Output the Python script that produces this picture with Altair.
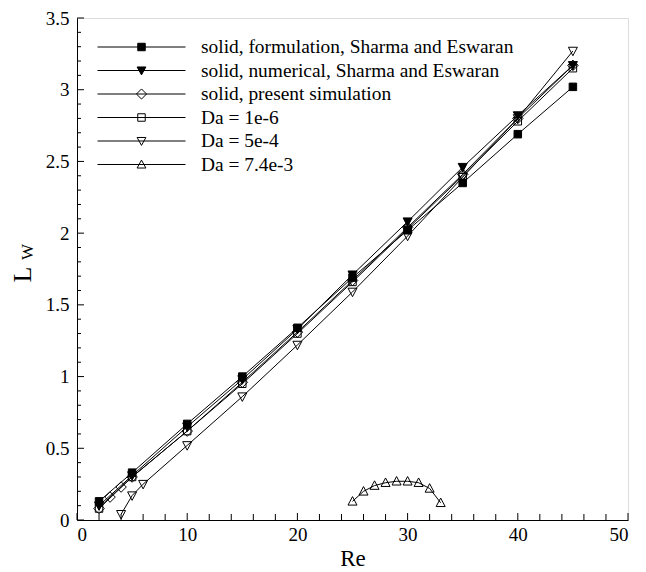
import altair as alt
import pandas as pd

series_names = [
    "solid, formulation, Sharma and Eswaran",
    "solid, numerical, Sharma and Eswaran",
    "solid, present simulation",
    "Da = 1e-6",
    "Da = 5e-4",
    "Da = 7.4e-3",
]

re_main = [2, 5, 10, 15, 20, 25, 30, 35, 40, 45]
L_formulation = [0.13, 0.33, 0.67, 1.00, 1.34, 1.69, 2.02, 2.35, 2.69, 3.02]
L_numerical = [0.10, 0.31, 0.65, 0.98, 1.33, 1.71, 2.08, 2.46, 2.82, 3.17]

re_present = [2, 3, 4, 5, 10, 15, 20, 25, 30, 35, 40, 45]
L_present = [0.08, 0.16, 0.23, 0.30, 0.62, 0.96, 1.31, 1.67, 2.04, 2.41, 2.80, 3.17]

L_da1e6 = [0.08, 0.30, 0.62, 0.95, 1.30, 1.66, 2.03, 2.40, 2.78, 3.15]

re_da5e4 = [4, 5, 6, 10, 15, 20, 25, 30, 35, 40, 45]
L_da5e4 = [0.04, 0.17, 0.25, 0.52, 0.86, 1.22, 1.59, 1.98, 2.39, 2.80, 3.27]

re_da74e3 = [25, 26, 27, 28, 29, 30, 31, 32, 33]
L_da74e3 = [0.13, 0.20, 0.24, 0.26, 0.27, 0.27, 0.26, 0.22, 0.12]

x_major = [0, 10, 20, 30, 40, 50]
x_minor = [2, 4, 6, 8, 12, 14, 16, 18, 22, 24, 26, 28, 32, 34, 36, 38, 42, 44, 46, 48]
y_major = [0, 0.5, 1, 1.5, 2, 2.5, 3, 3.5]
y_minor = [0.1, 0.2, 0.3, 0.4, 0.6, 0.7, 0.8, 0.9, 1.1, 1.2, 1.3, 1.4, 1.6, 1.7, 1.8, 1.9,
           2.1, 2.2, 2.3, 2.4, 2.6, 2.7, 2.8, 2.9, 3.1, 3.2, 3.3, 3.4]

rows = []
for name, xs, ys in [
    (series_names[0], re_main, L_formulation),
    (series_names[1], re_main, L_numerical),
    (series_names[2], re_present, L_present),
    (series_names[3], re_main, L_da1e6),
    (series_names[4], re_da5e4, L_da5e4),
    (series_names[5], re_da74e3, L_da74e3),
]:
    for xv, yv in zip(xs, ys):
        rows.append({"series": name, "Re": xv, "L": yv})
df = pd.DataFrame(rows)

W, H = 551, 502
FONT = "Liberation Serif, Times New Roman, Times, serif"

# marker-only shapes for the plotted points
pt_paths = [
    "M-0.75,-0.75H0.75V0.75H-0.75Z",
    "M-0.9,-0.75L0.9,-0.75L0,0.95Z",
    "M0,-1.05L1.05,0L0,1.05L-1.05,0Z",
    "M-0.75,-0.75H0.75V0.75H-0.75Z",
    "M-0.9,-0.75L0.9,-0.75L0,0.95Z",
    "M-0.9,0.75L0.9,0.75L0,-0.95Z",
]
# line + marker shapes for the legend
leg_paths = [
    "M-1,0H1M-0.085,-0.085H0.085V0.085H-0.085Z",
    "M-1,0H1M-0.1,-0.08L0.1,-0.08L0,0.1Z",
    "M-1,0H1M0,-0.115L0.115,0L0,0.115L-0.115,0Z",
    "M-1,0H1M-0.085,-0.085H0.085V0.085H-0.085Z",
    "M-1,0H1M-0.1,-0.08L0.1,-0.08L0,0.1Z",
    "M-1,0H1M-0.1,0.08L0.1,0.08L0,-0.1Z",
]
fills = ["black", "black", "transparent", "transparent", "transparent", "transparent"]
strokes = ["black"] * 6

xscale = alt.Scale(domain=[0, 50], nice=False, zero=False)
yscale = alt.Scale(domain=[0, 3.5], nice=False, zero=False)

x_axis = alt.Axis(values=x_major, format="d", ticks=False, grid=False, domainColor="black",
                  domainWidth=1, labelFont=FONT, labelFontSize=19, labelColor="black",
                  labelPadding=5, title="Re", titleFont=FONT, titleFontSize=23,
                  titleFontWeight="normal", titleColor="black", titlePadding=3)
y_axis = alt.Axis(values=y_major, format="~g", ticks=False, grid=False, domainColor="black",
                  domainWidth=1, labelFont=FONT, labelFontSize=19, labelColor="black",
                  labelPadding=8, title="L", titleFont=FONT, titleFontSize=26,
                  titleFontWeight="normal", titleColor="black", titleAngle=270,
                  titleAlign="center", titleBaseline="middle", titleX=-55, titleY=256)

X = alt.X("Re:Q", scale=xscale, axis=x_axis)
Y = alt.Y("L:Q", scale=yscale, axis=y_axis)

lines = alt.Chart(df).mark_line(color="black", strokeWidth=1).encode(
    x=X, y=Y, detail="series:N", order="Re:Q",
)

points = alt.Chart(df).mark_point(filled=True, stroke="black", strokeWidth=1, opacity=1, size=100).encode(
    x=X, y=Y,
    shape=alt.Shape("series:N", scale=alt.Scale(domain=series_names, range=pt_paths), legend=None),
    fill=alt.Fill("series:N", scale=alt.Scale(domain=series_names, range=fills), legend=None),
)

leg = alt.Legend(
    title=None, orient="none", legendX=20, legendY=19, padding=0,
    symbolSize=7744, clipHeight=20, rowPadding=3.5, labelOffset=15,
    labelFont=FONT, labelFontSize=19.4, labelColor="black", labelLimit=500,
    symbolStrokeColor="black", symbolStrokeWidth=1,
)
legend_layer = alt.Chart(df).transform_filter("false").mark_point(
    filled=False, strokeWidth=1, opacity=1
).encode(
    x=X, y=Y,
    shape=alt.Shape("series:N", scale=alt.Scale(domain=series_names, range=leg_paths), legend=leg),
    fill=alt.Fill("series:N", scale=alt.Scale(domain=series_names, range=fills), legend=leg),
    stroke=alt.Stroke("series:N", scale=alt.Scale(domain=series_names, range=strokes), legend=leg),
)

ytick_major = alt.Chart(pd.DataFrame({"L": y_major})).mark_rule(color="black", strokeWidth=1).encode(
    y=Y, x=alt.value(0), x2=alt.value(7))
ytick_minor = alt.Chart(pd.DataFrame({"L": y_minor})).mark_rule(color="black", strokeWidth=1).encode(
    y=Y, x=alt.value(0), x2=alt.value(4))
xtick_major = alt.Chart(pd.DataFrame({"Re": x_major})).mark_rule(color="black", strokeWidth=1).encode(
    x=X, y=alt.value(H), y2=alt.value(H - 7))
xtick_minor = alt.Chart(pd.DataFrame({"Re": x_minor})).mark_rule(color="black", strokeWidth=1).encode(
    x=X, y=alt.value(H), y2=alt.value(H - 6))

ytitle_W = alt.Chart(pd.DataFrame({"t": ["W"]})).mark_text(
    font=FONT, fontSize=17, angle=270, align="center", baseline="middle", color="black"
).encode(text="t:N", x=alt.value(-49), y=alt.value(234), angle=alt.value(270))

chart = alt.layer(
    lines, points, legend_layer,
    ytick_major, ytick_minor, xtick_major, xtick_minor,
    ytitle_W,
).resolve_scale(shape="independent", fill="independent", stroke="independent").properties(
    width=W, height=H,
    autosize=alt.AutoSizeParams(type="none"),
    padding={"left": 77, "top": 18, "right": 18, "bottom": 52},
).configure_view(stroke=None).configure(background="white")

chart.save("out.html", embed_options={"renderer": "svg", "actions": False})
